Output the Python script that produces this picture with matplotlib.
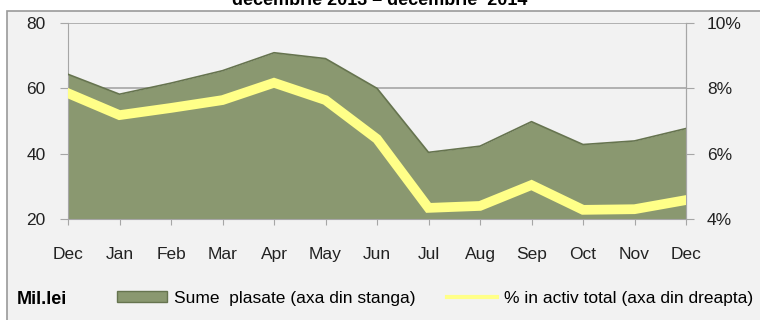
import matplotlib.pyplot as plt
from matplotlib.patches import Rectangle
from matplotlib.lines import Line2D
from matplotlib.ticker import FuncFormatter

plt.rcParams['font.family'] = ['Liberation Sans', 'DejaVu Sans']

months = ["Dec", "Jan", "Feb", "Mar", "Apr", "May", "Jun",
          "Jul", "Aug", "Sep", "Oct", "Nov", "Dec"]
sume_plasate = [64.3, 58.2, 61.6, 65.4, 70.9, 69.1, 60.0,
                40.4, 42.3, 49.8, 42.8, 43.9, 47.7]
pct_activ = [7.85, 7.18, 7.40, 7.64, 8.17, 7.64, 6.45,
             4.34, 4.40, 5.04, 4.28, 4.30, 4.58]

area_color = "#8a9870"
edge_color = "#66744f"
line_color = "#ffff88"
grid_color = "#a6a6a6"
bg = "#f2f2f2"

fig = plt.figure(figsize=(7.6, 3.2), dpi=100, facecolor="white")
fig.patches.append(Rectangle((7 / 760, -0.05), 1.0, 1 - 11 / 320 + 0.05,
                             transform=fig.transFigure, facecolor=bg,
                             edgecolor="#9a9a9a", linewidth=1.2, zorder=-5))
fig.text(0.5, 1 - 5 / 320, "decembrie 2013 \u2013 decembrie  2014",
         ha="center", va="baseline", fontsize=13, fontweight="bold")

ax = fig.add_axes([68 / 760, 1 - 219 / 320, 618 / 760, 196 / 320])
ax.set_facecolor(bg)
x = list(range(len(months)))
ax.fill_between(x, 0, sume_plasate, color=area_color, zorder=2, linewidth=0)
ax.plot(x, sume_plasate, color=edge_color, linewidth=1.2, zorder=3)
ax.set_xlim(0, len(months) - 1)
ax.set_ylim(20, 80)
ax.set_yticks([20, 40, 60, 80])
ax.set_xticks(x)
ax.set_xticklabels(months)
ax.yaxis.grid(True, color=grid_color, linewidth=1.2)
ax.set_axisbelow(True)
for s in ax.spines.values():
    s.set_color(grid_color)
ax.spines["top"].set_visible(False)
ax.tick_params(axis="x", length=4, color=grid_color, labelsize=12.5, pad=16,
               labelcolor="#222222")
ax.tick_params(axis="y", length=6, color=grid_color, labelsize=12.5, pad=10,
               labelcolor="#222222")

ax2 = ax.twinx()
ax2.plot(x, pct_activ, color=line_color, linewidth=7, solid_joinstyle="miter",
         zorder=4)
ax2.set_ylim(4, 10)
ax2.set_yticks([4, 6, 8, 10])
ax2.yaxis.set_major_formatter(FuncFormatter(lambda v, p: f"{v:.0f}%"))
for s in ax2.spines.values():
    s.set_visible(False)
ax2.spines["right"].set_visible(True)
ax2.spines["right"].set_color(grid_color)
ax2.tick_params(axis="y", length=6, color=grid_color, labelsize=12.5, pad=9,
                labelcolor="#222222")

handles = [Rectangle((0, 0), 1, 1, facecolor=area_color, edgecolor=edge_color),
           Line2D([0], [0], color=line_color, linewidth=3)]
labels = ["Sume  plasate (axa din stanga)", "% in activ total (axa din dreapta)"]
fig.legend(handles, labels, loc="center left", bbox_to_anchor=(117 / 760, 1 - 298 / 320),
           ncol=2, frameon=False, fontsize=12.5, handlelength=2.9,
           handleheight=0.6, handletextpad=0.4, columnspacing=1.8,
           borderaxespad=0, borderpad=0)
fig.text(17 / 760, 1 - 299 / 320, "Mil.lei", ha="left", va="center",
         fontsize=13, fontweight="bold")

fig.savefig("out.png", dpi=100, facecolor=fig.get_facecolor())
